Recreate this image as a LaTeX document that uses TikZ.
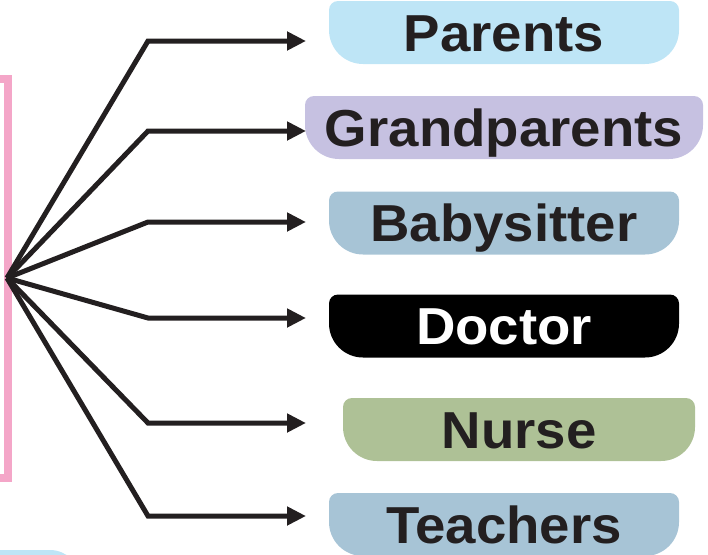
\documentclass[tikz,border=0pt]{standalone}
\usepackage{fontspec}
\newfontfamily\tabfont{Liberation Sans}[FakeStretch=1.05]
\usetikzlibrary{arrows.meta,positioning}
\definecolor{ink}{HTML}{231F20}
\definecolor{pinkline}{HTML}{F4A6C8}
\definecolor{parblue}{HTML}{BEE5F6}
\definecolor{grandlilac}{HTML}{C6C1E1}
\definecolor{steelblue}{HTML}{A7C4D6}
\definecolor{nursegreen}{HTML}{AEC196}

\begin{document}
\begin{tikzpicture}[
  x=1pt, y=-1pt,
  every node/.style={font=\tabfont\bfseries\fontsize{52}{60}\selectfont},
  tab/.style={minimum width=350pt, minimum height=63pt, inner sep=0pt,
    text height=37pt, text depth=0pt, text=ink,
    path picture={\fill[#1]
      ([xshift=9pt]path picture bounding box.north west)
      -- ([xshift=-9pt]path picture bounding box.north east)
      arc[start angle=90, end angle=0, radius=9pt]
      -- ([yshift=34pt]path picture bounding box.south east)
      arc[start angle=0, end angle=-90, radius=34pt]
      -- ([xshift=34pt]path picture bounding box.south west)
      arc[start angle=270, end angle=180, radius=34pt]
      -- ([yshift=-9pt]path picture bounding box.north west)
      arc[start angle=180, end angle=90, radius=9pt] -- cycle;}},
  arr/.style={-{Triangle[length=19pt, width=18pt]}, line width=5pt, ink},
]
\useasboundingbox (0,0) rectangle (708,554);
\clip (0,0) rectangle (708,554);

% left frame and the box cut off below
\draw[pinkline, line width=8pt] (-30,79) rectangle (8,478);
\fill[parblue, rounded corners=30pt] (-60,550) rectangle (80,640);

\node[tab=parblue] (par) at (504,32.5) {Parents};
\node[tab=grandlilac, minimum width=398pt] (gra) at (504,127.5) {Grandparents};
\node[tab=steelblue] (bab) at (504,223) {Babysitter};
\node[tab=black, text=white] (doc) at (504,326) {Doctor};
\node[tab=nursegreen, minimum width=352pt] (nur) at (519,429.5) {Nurse};
\node[tab=steelblue] (tea) at (504,524.5) {Teachers};

\coordinate (hub) at (7,278);
\coordinate (bend) at (148,0);
\foreach \n/\y in {par/41, gra/131, bab/222, doc/318, nur/423, tea/516} {
  \coordinate (tip-\n) at (306,\y);
  \draw[arr] (hub) -- (bend |- tip-\n) -- (tip-\n);
}

\end{tikzpicture}
\end{document}
